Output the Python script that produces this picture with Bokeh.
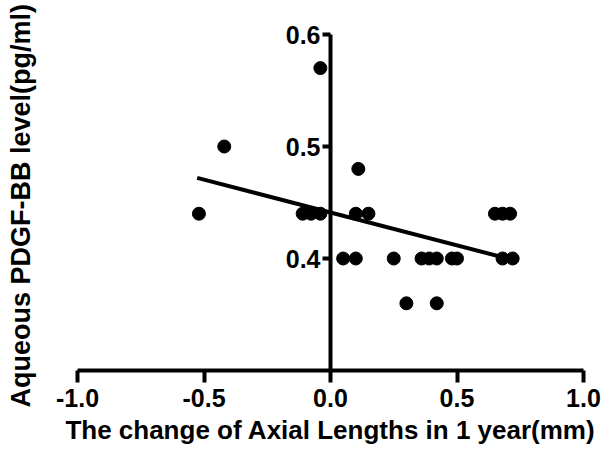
from bokeh.plotting import figure
from bokeh.models import (LinearAxis, FixedTicker, Range1d, ColumnDataSource,
                          CustomJSTickFormatter, Title)
from bokeh.embed import file_html
from bokeh.resources import INLINE

# Data
axial_change = [-0.52, -0.42, -0.11, -0.077, -0.04, -0.04, 0.11, 0.10, 0.15,
                0.05, 0.10, 0.25, 0.36, 0.39, 0.42, 0.48, 0.50, 0.68, 0.72,
                0.30, 0.42, 0.65, 0.68, 0.71]
pdgf_level = [0.44, 0.50, 0.44, 0.44, 0.44, 0.57, 0.48, 0.44, 0.44,
              0.40, 0.40, 0.40, 0.40, 0.40, 0.40, 0.40, 0.40, 0.40, 0.40,
              0.36, 0.36, 0.44, 0.44, 0.44]
fit_x = [-0.527, 0.70]
fit_y = [0.472, 0.40]
x_ticks = [-1.0, -0.5, 0.0, 0.5, 1.0]
y_ticks = [0.4, 0.5, 0.6]
x_label = "The change of Axial Lengths in 1 year(mm)"
y_label = "Aqueous PDGF-BB level(pg/ml)"

FONT = "Liberation Sans"
fmt = "return tick.toFixed(1);"

p = figure(frame_width=506, frame_height=364, output_backend="svg", toolbar_location=None,
           x_range=Range1d(-1.0, 1.0), y_range=Range1d(0.30, 0.625),
           x_axis_location=None, y_axis_location=None,
           min_border_left=70, min_border_right=23, min_border_top=6, min_border_bottom=0)
p.grid.visible = False
p.outline_line_color = None
p.background_fill_color = "white"
p.border_fill_color = "white"

def style_axis(ax, tick_out):
    ax.axis_line_width = 4
    ax.axis_line_color = "black"
    ax.major_tick_line_width = 4
    ax.major_tick_line_color = "black"
    ax.major_tick_out = tick_out
    ax.major_tick_in = 0
    ax.minor_tick_line_color = None
    ax.major_label_text_font = FONT
    ax.major_label_text_font_style = "bold"
    ax.major_label_text_font_size = "25px"
    ax.major_label_text_color = "black"
    ax.major_label_text_line_height = 1.0
    ax.axis_label_text_font = FONT
    ax.axis_label_text_font_style = "bold"
    ax.axis_label_text_font_size = "26px"
    ax.axis_label_text_color = "black"
    ax.axis_label_text_line_height = 1.0

# main y axis crossing at x = 0
yax = LinearAxis(fixed_location=0, ticker=FixedTicker(ticks=y_ticks),
                 formatter=CustomJSTickFormatter(code=fmt), bounds=(0.30, 0.60))
style_axis(yax, 8)
yax.major_label_standoff = 2
p.add_layout(yax, "left")

# blank spacer between the frame and the y title
spacer = Title(text=" ", standoff=32, text_font_size="1px")
p.add_layout(spacer, "left")

ytitle = Title(text=y_label, align="left", vertical_align="top", offset=-37, standoff=10,
               text_font=FONT, text_font_style="bold", text_font_size="27px",
               text_color="black")
p.add_layout(ytitle, "left")

xax = LinearAxis(ticker=FixedTicker(ticks=x_ticks), axis_label=x_label,
                 formatter=CustomJSTickFormatter(code=fmt))
style_axis(xax, 12)
xax.major_label_standoff = 6
xax.axis_label_standoff = 5
p.add_layout(xax, "below")

src = ColumnDataSource(dict(x=axial_change, y=pdgf_level))
p.line(fit_x, fit_y, line_width=4, line_color="black")
p.scatter("x", "y", source=src, size=13, fill_color="black", line_color="black")

open("out.html", "w").write(file_html(p, INLINE))
